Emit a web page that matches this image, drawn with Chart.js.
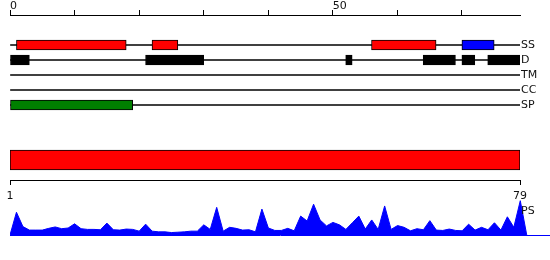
<!DOCTYPE html>
<html>
<head>
<meta charset="utf-8">
<script src="https://cdn.jsdelivr.net/npm/chart.js"></script>
<style>
  body { margin: 0; background: #fff; }
  #wrap { position: relative; width: 550px; height: 260px; overflow: hidden; }
  canvas { position: absolute; left: 0; }
  .lbl { position: absolute; font: 11px "DejaVu Sans", sans-serif; color: #111; line-height: 13px; }
</style>
</head>
<body>
<div id="wrap">
  <canvas id="tracks" width="550" height="130" style="top:0"></canvas>
  <canvas id="region" width="550" height="65" style="top:140px"></canvas>
  <canvas id="ps" width="550" height="45" style="top:195px"></canvas>
  <div class="lbl" style="left:521px;top:204px">PS</div>
</div>
<script>
// sequence features, residue ranges [start, end]
const seqLength = 79;
const trackNames = ["SS", "D", "TM", "CC", "SP"];
const ssHelix = [[1, 18], [22, 26], [56, 66]];
const ssStrand = [[70, 75]];
const disorder = [[0, 3], [21, 30], [52, 53], [64, 69], [70, 72], [74, 79]];
const transmem = [];
const coiledCoil = [];
const signalPep = [[0, 19]];
const topTicks = [0, 10, 20, 30, 40, 50, 60, 70];
const topTickLabels = { 0: "0", 50: "50" };

const regionSpan = [1, 79];
const bottomTicks = [1, 79];

// PS score per residue, residue 0..80 (ends closed at 0)
const psScores = [0,
  0.65, 0.24, 0.14, 0.14, 0.14, 0.19, 0.23, 0.18, 0.20, 0.32,
  0.18, 0.16, 0.16, 0.15, 0.34, 0.15, 0.14, 0.17, 0.16, 0.11,
  0.31, 0.11, 0.09, 0.09, 0.07, 0.08, 0.09, 0.11, 0.11, 0.29,
  0.16, 0.79, 0.11, 0.22, 0.19, 0.14, 0.15, 0.09, 0.74, 0.20,
  0.13, 0.13, 0.19, 0.12, 0.54, 0.40, 0.88, 0.43, 0.26, 0.36,
  0.29, 0.16, 0.35, 0.54, 0.17, 0.43, 0.16, 0.83, 0.16, 0.27,
  0.22, 0.12, 0.18, 0.15, 0.41, 0.14, 0.13, 0.17, 0.13, 0.12,
  0.31, 0.14, 0.22, 0.15, 0.35, 0.14, 0.52, 0.22, 0.98,
  0];

Chart.defaults.font.family = "'DejaVu Sans', sans-serif";
Chart.defaults.font.size = 11;
Chart.defaults.color = "#111";
Chart.defaults.animation = false;
Chart.defaults.plugins.legend.display = false;
Chart.defaults.plugins.tooltip.enabled = false;

function row(name) {
  return trackNames.indexOf(name) + 2;
}

function boxes(ranges, name, fill, thick) {
  return {
    data: ranges.map(r => ({ x: r, y: row(name) })),
    backgroundColor: fill,
    borderColor: "#000",
    borderWidth: 1,
    borderSkipped: false,
    barThickness: thick,
    order: 1
  };
}

// feature tracks
new Chart(document.getElementById("tracks"), {
  type: "bar",
  data: {
    datasets: [
      {
        data: trackNames.map(n => ({ x: [0, seqLength], y: row(n) })),
        backgroundColor: "#000",
        borderWidth: 0,
        barThickness: 1,
        order: 2
      },
      boxes(ssHelix, "SS", "#ff0000", 10),
      boxes(ssStrand, "SS", "#0000ff", 10),
      boxes(disorder, "D", "#000000", 10),
      boxes(transmem, "TM", "#ffff00", 10),
      boxes(coiledCoil, "CC", "#00ffff", 10),
      boxes(signalPep, "SP", "#008000", 10)
    ]
  },
  options: {
    responsive: false,
    devicePixelRatio: 1,
    indexAxis: "y",
    datasets: { bar: { grouped: false } },
    layout: { padding: { left: 10, right: 0, top: 0, bottom: 10 } },
    scales: {
      x: {
        type: "linear",
        position: "top",
        min: 0,
        max: seqLength,
        afterBuildTicks: s => { s.ticks = topTicks.map(v => ({ value: v })); },
        afterFit: s => { s.height = 15; },
        grid: { drawOnChartArea: false, tickLength: 5, color: "#000" },
        border: { color: "#000", width: 1 },
        ticks: { align: "start", padding: -3, maxRotation: 0, autoSkip: false,
                 callback: v => topTickLabels[v] ?? "" }
      },
      y: {
        type: "linear",
        position: "right",
        offset: false,
        reverse: true,
        min: 0,
        max: 7,
        afterBuildTicks: s => { s.ticks = trackNames.map(n => ({ value: row(n) })); },
        afterFit: s => { s.width = 30; },
        grid: { display: false, drawTicks: false, offset: false },
        border: { display: false },
        ticks: { padding: 1, callback: v => trackNames[v - 2] }
      }
    }
  }
});

// whole-sequence region bar with residue axis
new Chart(document.getElementById("region"), {
  type: "bar",
  data: {
    datasets: [{
      data: [{ x: regionSpan, y: 15 }],
      backgroundColor: "#ff0000",
      borderColor: "#000",
      borderWidth: 1,
      borderSkipped: false,
      barThickness: 20
    }]
  },
  options: {
    responsive: false,
    devicePixelRatio: 1,
    indexAxis: "y",
    layout: { padding: { left: 10, right: 30, top: 5, bottom: 0 } },
    scales: {
      x: {
        type: "linear",
        min: regionSpan[0],
        max: regionSpan[1],
        afterBuildTicks: s => { s.ticks = bottomTicks.map(v => ({ value: v })); },
        afterFit: s => { s.height = 25; },
        grid: { drawOnChartArea: false, tickLength: 5, color: "#000" },
        border: { color: "#000", width: 1 },
        ticks: { padding: 5, maxRotation: 0, autoSkip: false }
      },
      y: { type: "linear", display: false, offset: false, reverse: true, min: 0, max: 35 }
    }
  }
});

// PS profile
new Chart(document.getElementById("ps"), {
  type: "line",
  data: {
    datasets: [{
      data: psScores.map((v, i) => ({ x: i, y: v })),
      fill: "origin",
      backgroundColor: "#0000ff",
      borderColor: "#0000ff",
      borderWidth: 1,
      pointRadius: 0,
      tension: 0
    }]
  },
  options: {
    responsive: false,
    devicePixelRatio: 1,
    layout: { padding: { left: 10, right: 0, top: 5, bottom: 5 } },
    scales: {
      x: {
        type: "linear",
        min: 0,
        max: 83.6,
        afterFit: s => { s.height = 0; },
        ticks: { display: false },
        grid: { display: false, drawTicks: false },
        border: { color: "#0000ff", width: 1 }
      },
      y: { type: "linear", display: false, min: 0, max: 1 }
    }
  }
});
</script>
</body>
</html>
